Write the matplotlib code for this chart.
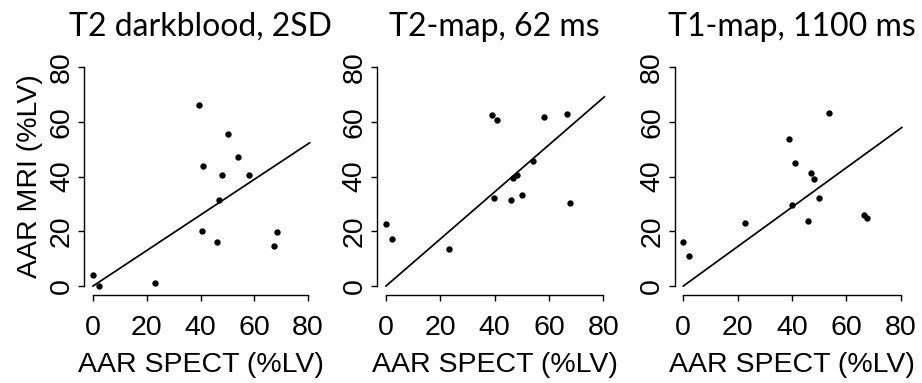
import matplotlib
matplotlib.use("Agg")
import matplotlib.pyplot as plt
import numpy as np

titles = ["T2 darkblood, 2SD", "T2-map, 62 ms", "T1-map, 1100 ms"]
xlabel = "AAR SPECT (%LV)"
ylabel = "AAR MRI (%LV)"
ticks = [0, 20, 40, 60, 80]

spect_t2db = [0, 2.1, 23, 39.5, 41, 40.4, 50.1, 54, 48.1, 58.2, 47, 46, 68.6, 67.5]
mri_t2db = [3.9, 0, 1, 66.1, 44, 20, 55.7, 47.2, 40.6, 40.6, 31.6, 16, 19.6, 14.6]

spect_t2map = [0, 2.1, 23.3, 38.9, 41, 39.9, 45.9, 46.9, 48.1, 50.1, 54.1, 58.3, 66.7, 67.9]
mri_t2map = [22.6, 17, 13.6, 62.4, 60.8, 32.1, 31.6, 39.5, 40.6, 33.1, 45.7, 61.8, 62.7, 30.2]

spect_t1map = [0, 2.1, 22.7, 38.9, 41, 39.9, 46, 46.9, 48, 50.1, 53.7, 66.6, 67.5]
mri_t1map = [16, 10.9, 23.1, 53.7, 45.1, 29.7, 23.6, 41.3, 39.1, 32.1, 63.2, 25.8, 24.7]

# fitted lines through origin: (x_end, y_end)
line_x = [80.6, 80.4, 80.4]
line_y = [52.3, 69.1, 57.9]

data = [(spect_t2db, mri_t2db), (spect_t2map, mri_t2map), (spect_t1map, mri_t1map)]

W, H = 922, 383
fig = plt.figure(figsize=(W / 100, H / 100), dpi=100)
lefts = [84.4, 377.3, 674.6]
widths = [232.2, 234.7, 234.8]
bottom_px, top_px = 294.8, 58.2

tickfont = "Liberation Sans"
titlefont = "Lato"

for i in range(3):
    ax = fig.add_axes([lefts[i] / W, 1 - bottom_px / H, widths[i] / W, (bottom_px - top_px) / H])
    xs, ys = data[i]
    ax.scatter(xs, ys, s=21, color="black", zorder=3, linewidths=0)
    ax.plot([0, line_x[i]], [0, line_y[i]], color="black", lw=1.25)
    ax.set_xlim(-3.2, 83.2)
    ax.set_ylim(-3.2, 83.2)
    for s in ["top", "right"]:
        ax.spines[s].set_visible(False)
    ax.spines["left"].set_bounds(0, 80)
    ax.spines["bottom"].set_bounds(0, 80)
    for s in ["left", "bottom"]:
        ax.spines[s].set_linewidth(1.0)
    ax.set_xticks(ticks)
    ax.set_yticks(ticks)
    ax.set_xticklabels([str(t) for t in ticks], fontsize=20.5, family=tickfont)
    ax.set_yticklabels([str(t) for t in ticks], fontsize=20.5, family=tickfont,
                       rotation=90, va="center", ha="right")
    ax.tick_params(length=4.3, width=1.0, direction="out")
    ax.tick_params(axis="x", pad=10)
    ax.tick_params(axis="y", pad=2.5)
    ax.set_xlabel(xlabel, fontsize=20.5, family=tickfont, labelpad=8)
    if i == 0:
        ax.set_ylabel(ylabel, fontsize=20.5, family=tickfont)
        ax.yaxis.set_label_coords((43 - lefts[0]) / widths[0], 0.5)
    ax.set_title(titles[i], fontsize=23, family=titlefont, pad=16)

fig.savefig("out.png", dpi=100)
